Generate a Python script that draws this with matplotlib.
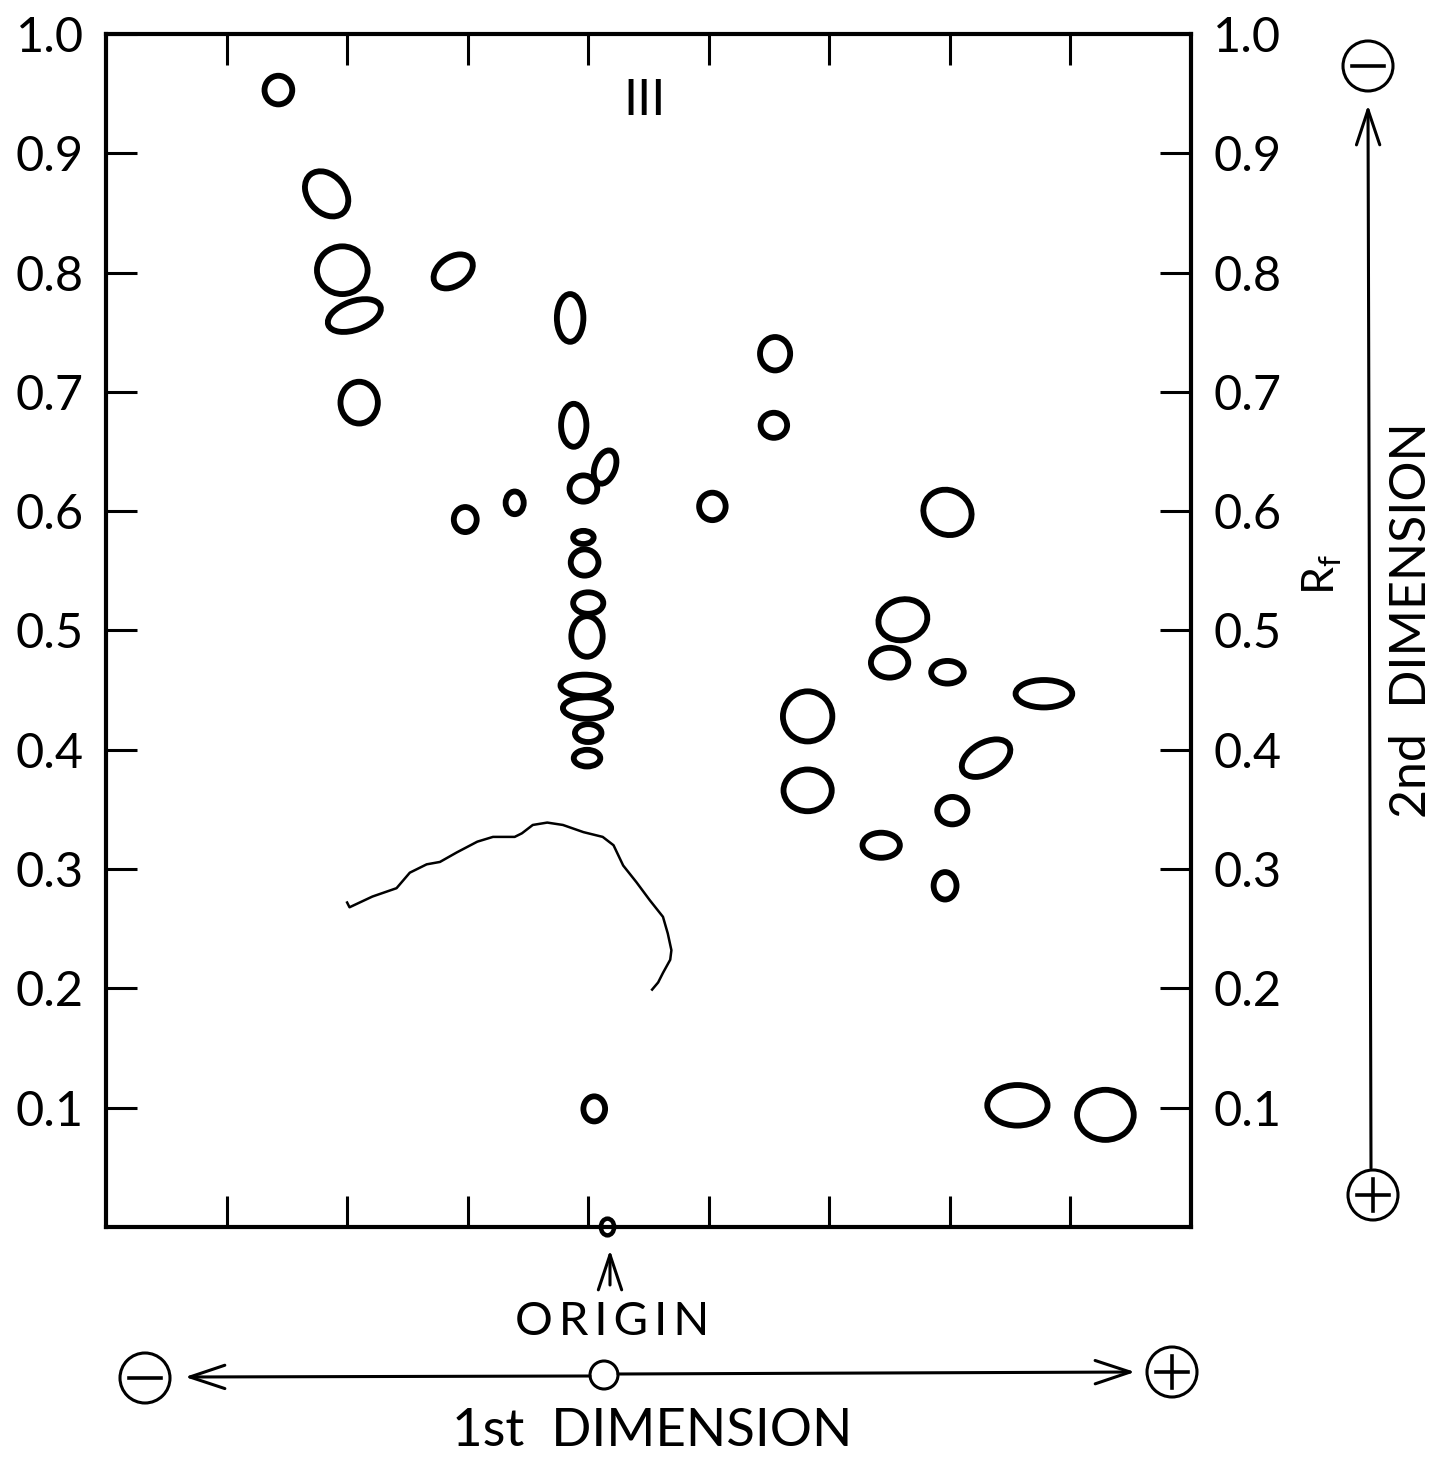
import matplotlib.pyplot as plt
from matplotlib.patches import Ellipse, Circle
from matplotlib.transforms import Affine2D
import numpy as np

# spot centres (1st dimension in tick units, 2nd dimension as Rf)
spot_x = [1.43, 1.83, 1.96, 2.06, 2.10, 2.88, 2.98, 3.39, 3.85, 3.88,
          3.96, 4.14, 3.96, 3.97, 4.00, 3.99, 3.97, 3.99, 4.00, 3.99,
          4.05, 5.55, 5.54, 5.03, 6.98, 6.61, 6.50, 6.98, 7.78, 5.82,
          5.82, 7.30, 7.02, 6.43, 6.96, 7.56, 8.29]
spot_rf = [0.953, 0.866, 0.802, 0.764, 0.691, 0.801, 0.593, 0.607, 0.762, 0.672,
           0.619, 0.637, 0.578, 0.557, 0.523, 0.495, 0.454, 0.435, 0.414, 0.393,
           0.099, 0.732, 0.672, 0.604, 0.599, 0.509, 0.473, 0.465, 0.447, 0.428,
           0.366, 0.393, 0.349, 0.320, 0.286, 0.102, 0.094]
# spot extent along the two axes, and tilt in degrees
spot_w = [0.23, 0.42, 0.42, 0.46, 0.31, 0.36, 0.19, 0.15, 0.22, 0.21,
          0.23, 0.29, 0.17, 0.23, 0.25, 0.26, 0.40, 0.40, 0.22, 0.22,
          0.18, 0.25, 0.22, 0.22, 0.41, 0.41, 0.31, 0.27, 0.47, 0.41,
          0.40, 0.44, 0.25, 0.31, 0.19, 0.50, 0.47]
spot_h = [0.024, 0.031, 0.040, 0.024, 0.035, 0.024, 0.021, 0.019, 0.040, 0.036,
          0.022, 0.017, 0.011, 0.022, 0.018, 0.034, 0.018, 0.018, 0.015, 0.014,
          0.021, 0.028, 0.021, 0.023, 0.037, 0.034, 0.025, 0.019, 0.023, 0.042,
          0.035, 0.026, 0.023, 0.021, 0.023, 0.034, 0.042]
spot_angle = [0, -50, 0, 20, 0, 35, 0, 0, 0, 0,
              0, 70, 0, 0, 0, 0, 0, 0, 0, 0,
              0, 0, 0, 0, -30, 15, 0, 0, 0, 0,
              0, 30, 0, 0, 0, 0, 0]

# outline of the streak below the central column
streak_x = [2.00, 2.02, 2.21, 2.41, 2.52, 2.66, 2.77, 2.91, 3.08, 3.21,
            3.39, 3.45, 3.54, 3.66, 3.79, 3.96, 4.12, 4.21, 4.29, 4.40,
            4.51, 4.62, 4.66, 4.69, 4.68, 4.62, 4.58, 4.53]
streak_rf = [0.272, 0.268, 0.277, 0.284, 0.297, 0.304, 0.306, 0.314, 0.323, 0.327,
             0.327, 0.330, 0.337, 0.339, 0.337, 0.331, 0.327, 0.320, 0.303, 0.289,
             0.274, 0.260, 0.246, 0.232, 0.224, 0.213, 0.205, 0.199]

origin_x, origin_rf = 4.16, 0.0
rf_ticks = [0.1, 0.2, 0.3, 0.4, 0.5, 0.6, 0.7, 0.8, 0.9, 1.0]
rf_labels = ['0.1', '0.2', '0.3', '0.4', '0.5', '0.6', '0.7', '0.8', '0.9', '1.0']
dim1_ticks = [1, 2, 3, 4, 5, 6, 7, 8]

plt.rcParams['font.family'] = ['Lato', 'DejaVu Sans']
plt.rcParams['text.color'] = 'black'

W, H = 1435, 1457
fig = plt.figure(figsize=(W / 100, H / 100), dpi=100)
ax = fig.add_axes([106 / W, 1 - 1227 / H, (1191 - 106) / W, (1227 - 34) / H])
ax.set_xlim(0, 9)
ax.set_ylim(0, 1)

for s in ax.spines.values():
    s.set_linewidth(3)
ax.set_xticks(dim1_ticks)
ax.set_xticklabels([])
ax.set_yticks(rf_ticks)
ax.set_yticklabels(rf_labels)
ax.tick_params(axis='both', direction='in', length=22, width=2.2,
               top=True, right=True, labelright=True, labelsize=35,
               labelcolor='black')
ax.tick_params(axis='y', which='both', pad=16)

# spots drawn in a frame where 0.1 Rf is about one tick unit wide
spot_tf = Affine2D().scale(1, 0.1) + ax.transData
for x, y, w, h, a in zip(spot_x, spot_rf, spot_w, spot_h, spot_angle):
    ax.add_patch(Ellipse((x, y * 10), w, h * 10, angle=a, fill=False,
                         lw=4.2, ec='black', transform=spot_tf))

ax.plot(streak_x, streak_rf, color='black', lw=1.8)

ax.add_patch(Ellipse((origin_x, origin_rf * 10), 0.11, 0.14, fill=False, lw=3.2,
                     ec='black', transform=spot_tf, clip_on=False, zorder=5))
ax.text(4.47, 0.944, 'III', fontsize=36, ha='center', va='center')

# annotations around the plot, in pixel coordinates
ov = fig.add_axes([0, 0, 1, 1])
ov.set_xlim(0, W)
ov.set_ylim(H, 0)
ov.axis('off')
ov.patch.set_alpha(0)


def circled(cx, cy, plus):
    ov.add_patch(Circle((cx, cy), 25, fill=False, lw=2.2, ec='black'))
    ov.plot([cx - 16, cx + 16], [cy, cy], color='black', lw=2.6)
    if plus:
        ov.plot([cx, cx], [cy - 16, cy + 16], color='black', lw=2.6)


arrow_kw = dict(arrowstyle='->,head_length=0.9,head_width=0.3', color='black', lw=2.2,
                shrinkA=0, shrinkB=0, mutation_scale=28)

# origin pointer
ov.annotate('', xy=(610, 1250), xytext=(610, 1285), arrowprops=arrow_kw)
ov.text(612, 1322, 'O\u2009R\u2009I\u2009G\u2009I\u2009N', fontsize=34,
        ha='center', va='center')

# 1st dimension
circled(145, 1378, False)
circled(1172, 1372, True)
ov.add_patch(Circle((604, 1375), 14, fill=False, lw=2.2, ec='black'))
ov.annotate('', xy=(185, 1377), xytext=(590, 1376), arrowprops=arrow_kw)
ov.annotate('', xy=(1135, 1372), xytext=(618, 1374), arrowprops=arrow_kw)
ov.text(652, 1432, '1st  DIMENSION', fontsize=38, ha='center', va='center')

# 2nd dimension
circled(1368, 66, False)
circled(1373, 1195, True)
ov.annotate('', xy=(1368, 105), xytext=(1371, 1168), arrowprops=arrow_kw)
ov.text(1322, 575, 'R$_\\mathregular{f}$', fontsize=32, rotation=90,
        ha='center', va='center')
ov.text(1412, 620, '2nd  DIMENSION', fontsize=36, rotation=90,
        ha='center', va='center')

fig.savefig('out.png', dpi=100, facecolor='white')
